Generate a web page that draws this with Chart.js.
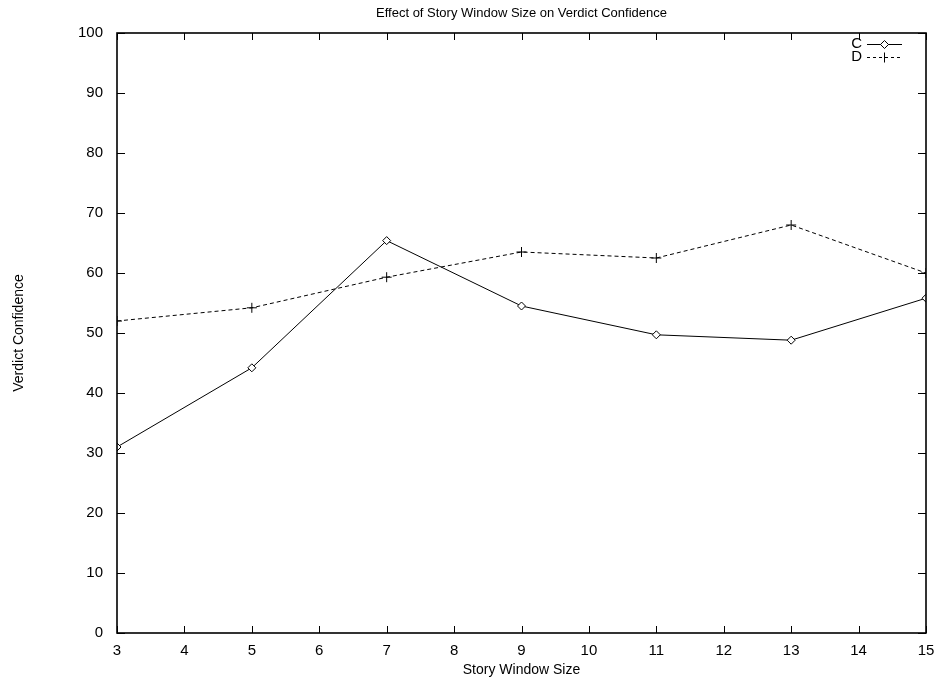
<!DOCTYPE html>
<html><head><meta charset="utf-8">
<script src="https://cdn.jsdelivr.net/npm/chart.js@4/dist/chart.umd.min.js"></script>
<style>html,body{margin:0;padding:0;background:#fff}#wrap{width:939px;height:681px}</style>
</head><body><div id="wrap"><canvas id="c" width="939" height="681"></canvas></div>
<script>
const windowSizes = [3, 5, 7, 9, 11, 13, 15];
const seriesC = [31.0, 44.2, 65.4, 54.5, 49.7, 48.8, 55.8];
const seriesD = [52.0, 54.2, 59.3, 63.5, 62.5, 68.0, 60.0];
const xTicks = [3,4,5,6,7,8,9,10,11,12,13,14,15];
const yTicks = [0,10,20,30,40,50,60,70,80,90,100];
const titleText = 'Effect of Story Window Size on Verdict Confidence';
const xTitle = 'Story Window Size';
const yTitle = 'Verdict Confidence';
const FONT = '"Liberation Sans", Arial, sans-serif';

const framePlugin = {
  id: 'frame',
  afterDraw(chart) {
    const {ctx, chartArea: a, scales: {x, y}} = chart;
    ctx.save();
    ctx.strokeStyle = '#000';
    ctx.lineWidth = 1;
    xTicks.forEach(v => {
      const px = Math.round(x.getPixelForValue(v)) + 0.5;
      ctx.beginPath();
      ctx.moveTo(px, a.bottom); ctx.lineTo(px, a.bottom - 7);
      ctx.moveTo(px, a.top); ctx.lineTo(px, a.top + 7);
      ctx.stroke();
    });
    yTicks.forEach(v => {
      const py = Math.round(y.getPixelForValue(v)) + 0.5;
      ctx.beginPath();
      ctx.moveTo(a.left, py); ctx.lineTo(a.left + 8, py);
      ctx.moveTo(a.right, py); ctx.lineTo(a.right - 8, py);
      ctx.stroke();
    });
    ctx.lineWidth = 1.6;
    ctx.strokeRect(a.left, a.top, a.right - a.left, a.bottom - a.top);
    ctx.fillStyle = '#000';
    ctx.font = '13px ' + FONT;
    ctx.textAlign = 'center';
    ctx.textBaseline = 'middle';
    ctx.fillText(titleText, (a.left + a.right) / 2, 13);
    ctx.font = '15px ' + FONT;
    ctx.textAlign = 'right';
    const lx = 862, sx0 = 867, sx1 = 902;
    const rows = [{t:'C', y:44, dash:[], marker:'diamond'}, {t:'D', y:57, dash:[3,3], marker:'plus'}];
    rows.forEach(r => {
      ctx.fillText(r.t, lx, r.y);
      ctx.lineWidth = 1;
      ctx.setLineDash(r.dash);
      ctx.beginPath(); ctx.moveTo(sx0, r.y + 0.5); ctx.lineTo(sx1, r.y + 0.5); ctx.stroke();
      ctx.setLineDash([]);
      const mx = (sx0 + sx1) / 2, my = r.y + 0.5;
      ctx.beginPath();
      if (r.marker === 'diamond') {
        ctx.moveTo(mx - 4, my); ctx.lineTo(mx, my - 4); ctx.lineTo(mx + 4, my); ctx.lineTo(mx, my + 4); ctx.closePath();
        ctx.fillStyle = '#fff'; ctx.fill(); ctx.stroke(); ctx.fillStyle = '#000';
      } else {
        ctx.moveTo(mx, my - 5); ctx.lineTo(mx, my + 5); ctx.stroke();
      }
    });
    ctx.restore();
  }
};

new Chart(document.getElementById('c'), {
  type: 'line',
  data: {
    datasets: [
      { label: 'C', data: windowSizes.map((v, i) => ({x: v, y: seriesC[i]})),
        borderColor: '#000', backgroundColor: '#fff', borderWidth: 1,
        pointStyle: 'rectRot', pointRadius: 4, pointBorderWidth: 1, tension: 0 },
      { label: 'D', data: windowSizes.map((v, i) => ({x: v, y: seriesD[i]})),
        borderColor: '#000', backgroundColor: '#000', borderWidth: 1, borderDash: [4, 3],
        pointStyle: 'cross', pointRadius: 5, pointBorderWidth: 1, tension: 0 }
    ]
  },
  options: {
    responsive: false, animation: false,
    layout: { padding: { top: 33, right: 13, left: 0, bottom: 0 } },
    plugins: { legend: { display: false }, title: { display: false }, tooltip: { enabled: false } },
    scales: {
      x: {
        type: 'linear', min: 3, max: 15,
        afterBuildTicks: s => { s.ticks = xTicks.map(v => ({value: v})); },
        afterFit: s => { s.height = 48; s.paddingLeft = 0; s.paddingRight = 0; },
        grid: { display: false, drawTicks: false },
        border: { display: false },
        ticks: { color: '#000', font: { family: FONT, size: 15 }, padding: 9, maxRotation: 0 },
        title: { display: true, text: xTitle, color: '#000', font: { family: FONT, size: 14 }, padding: { top: 0, bottom: 2 } }
      },
      y: {
        type: 'linear', min: 0, max: 100,
        afterBuildTicks: s => { s.ticks = yTicks.map(v => ({value: v})); },
        afterFit: s => { s.width = 117; s.paddingTop = 0; s.paddingBottom = 0; },
        grid: { display: false, drawTicks: false },
        border: { display: false },
        ticks: { color: '#000', font: { family: FONT, size: 15 }, padding: 14 },
        title: { display: true, text: yTitle, color: '#000', font: { family: FONT, size: 14 }, padding: { top: 11, bottom: 0 } }
      }
    }
  },
  plugins: [framePlugin]
});
</script></body></html>
